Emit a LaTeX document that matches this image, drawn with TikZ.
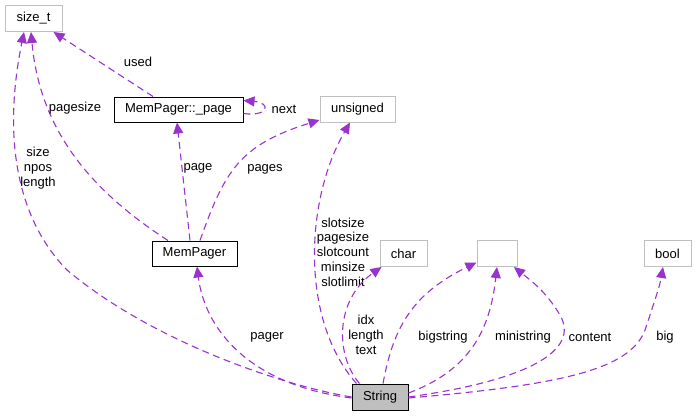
\documentclass[tikz,border=0pt]{standalone}
\usepackage{fontspec}
\setmainfont{Liberation Sans}
\usetikzlibrary{arrows.meta}
\definecolor{edgec}{HTML}{9A32CD}
\definecolor{grayb}{HTML}{BFBFBF}
\begin{document}
\begin{tikzpicture}[x=1pt,y=-1pt,
  every node/.style={font=\fontsize{13}{14.7}\selectfont, inner sep=0pt},
  cls/.style={draw=black, line width=1pt, fill=white, minimum height=25pt},
  ext/.style={draw=grayb, line width=1pt, fill=white, minimum height=26pt},
  edge/.style={draw=edgec, line width=1.1pt, dash pattern=on 7pt off 4.5pt,
     -{Triangle[length=11pt,width=10pt,fill=edgec]}},
  lbl/.style={align=center}]
\useasboundingbox (0,0) rectangle (696,416);

\node[ext, minimum width=57pt] (sizet) at (33.5,18.5) {size\_t};
\node[cls, minimum width=129pt] (page) at (178.5,109.5) {MemPager::\_page};
\node[ext, minimum width=75pt] (unsigned) at (357.5,109) {unsigned};
\node[cls, minimum width=85pt] (mempager) at (194.5,253.5) {MemPager};
\node[ext, minimum width=47pt] (char) at (403.5,253.5) {char};
\node[ext, minimum width=40pt] (blank) at (497,253.5) {};
\node[ext, minimum width=47pt] (bool) at (667.5,253.5) {bool};
\node[cls, fill=grayb, minimum width=56pt, minimum height=26pt] (string) at (380,397) {String};

% String -> size_t
\draw[edge] (string.west) .. controls (280,385) and (150,340) .. (67,270)
  .. controls (18,220) and (2,140) .. ([xshift=-9.5pt]sizet.south);
\node[lbl] (l1) at (38,168) {size\\npos\\length};

% MemPager -> size_t
\draw[edge] ([xshift=-26.5pt]mempager.north) .. controls (90,190) and (40,130) .. ([xshift=-2.5pt]sizet.south);
\node (l2) at (75,108) {pagesize};

% _page -> size_t
\draw[edge] ([xshift=-25.5pt]page.north) -- ([xshift=20pt]sizet.south);
\node (l3) at (138,62) {used};

% _page self loop
\draw[edge] ([yshift=-4pt]page.east) .. controls (268,117) and (272,103) .. ([yshift=9pt]page.east);
\node (l4) at (284,109) {next};

% MemPager -> _page
\draw[edge] ([xshift=-4.5pt]mempager.north) -- ([xshift=-1.5pt]page.south);
\node (l5) at (198,168) {page};

% MemPager -> unsigned
\draw[edge] ([xshift=5.5pt]mempager.north) .. controls (225,170) and (240,145) .. ([yshift=-11pt]unsigned.west);
\node (l6) at (265,169) {pages};

% String -> unsigned
\draw[edge] ([xshift=5pt]string.north west) .. controls (300,320) and (305,200) .. ([xshift=-7.5pt]unsigned.south);
\node[lbl] (l7) at (343,252) {slotsize\\pagesize\\slotcount\\minsize\\slotlimit};

% String -> MemPager
\draw[edge] ([yshift=-1pt]string.west) .. controls (250,385) and (205,330) .. ([xshift=2.5pt]mempager.south);
\node (l8) at (267,337) {pager};

% String -> char
\draw[edge] ([xshift=8pt]string.north west) .. controls (335,355) and (335,300) .. ([xshift=2pt]char.south west);
\node[lbl] (l9) at (366,335) {idx\\length\\text};

% String -> blank (bigstring)
\draw[edge] ([xshift=3pt]string.north) .. controls (393,330) and (410,295) .. ([yshift=-9pt]blank.west);
\node (l10) at (443,337) {bigstring};

% String -> blank (ministring)
\draw[edge] ([yshift=4pt]string.east) .. controls (470,370) and (490,330) .. (blank.south);
\node (l11) at (523,337) {ministring};

% String -> blank (content)
\draw[edge] (string.east) .. controls (530,380) and (580,350) .. (560,315)
  .. controls (545,290) and (530,280) .. ([xshift=17pt]blank.south);
\node (l12) at (590,337) {content};

% String -> bool
\draw[edge] ([yshift=-1pt]string.east) .. controls (560,385) and (630,370) .. (645,330)
  .. controls (655,300) and (660,285) .. ([xshift=-4.5pt]bool.south);
\node (l13) at (665,337) {big};
\end{tikzpicture}
\end{document}
